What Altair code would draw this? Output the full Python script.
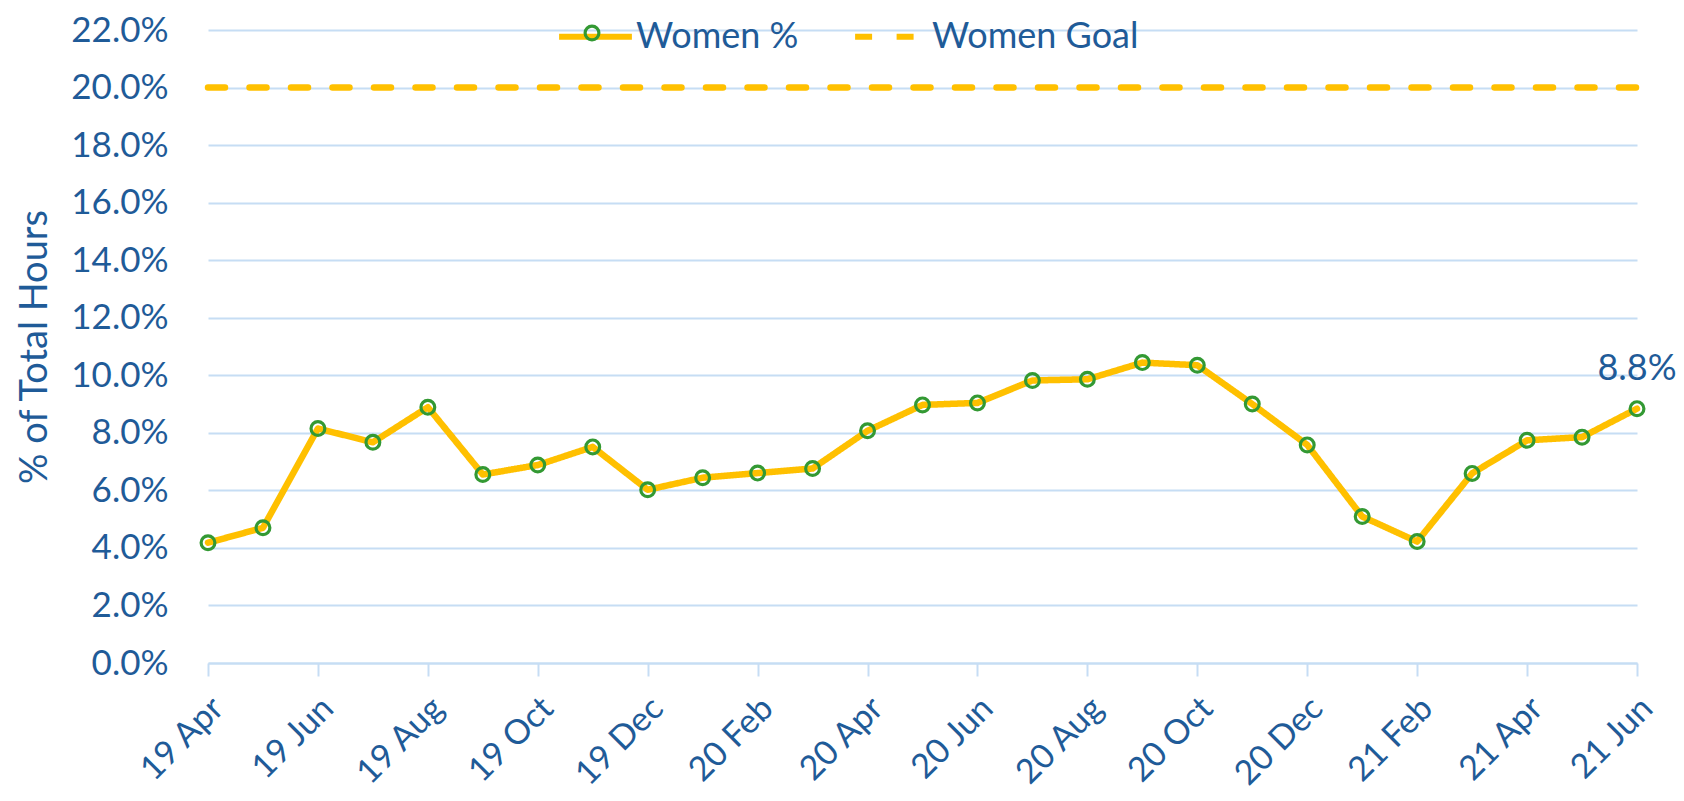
import altair as alt
import pandas as pd

months = ["19 Apr","19 May","19 Jun","19 Jul","19 Aug","19 Sep","19 Oct","19 Nov","19 Dec",
          "20 Jan","20 Feb","20 Mar","20 Apr","20 May","20 Jun","20 Jul","20 Aug","20 Sep",
          "20 Oct","20 Nov","20 Dec","21 Jan","21 Feb","21 Mar","21 Apr","21 May","21 Jun"]
women_pct = [4.18, 4.70, 8.15, 7.67, 8.89, 6.55, 6.88, 7.51, 6.02,
             6.44, 6.60, 6.76, 8.07, 8.97, 9.04, 9.82, 9.86, 10.44,
             10.35, 9.00, 7.58, 5.09, 4.22, 6.59, 7.74, 7.85, 8.84]
goal_pct = 20.0
series_names = ["Women %", "Women Goal"]
tick_months = months[::2]
y_ticks = [i / 100 for i in range(0, 23, 2)]

BLUE = "#1F5B98"
GOLD = "#FFC000"
GREEN = "#339933"
GRID = "#C6DDF4"
FONT = "Lato"

rows = []
for m, v in zip(months, women_pct):
    rows.append({"month": m, "value": v / 100, "series": series_names[0]})
for m in months:
    rows.append({"month": m, "value": goal_pct / 100, "series": series_names[1]})
df = pd.DataFrame(rows)

x = alt.X("month:O", sort=months, title=None,
          scale=alt.Scale(type="point", domain=months, padding=0),
          axis=alt.Axis(values=tick_months, labelAngle=-45, labelAlign="right",
                        labelBaseline="middle", labelFontSize=34, labelColor=BLUE,
                        labelFont=FONT, labelPadding=27, labelOffset=10, tickSize=13,
                        tickColor=GRID, tickWidth=2, domainColor=GRID, domainWidth=2,
                        grid=False))
y = alt.Y("value:Q", title="% of Total Hours",
          scale=alt.Scale(domain=[0, 0.22], nice=False),
          axis=alt.Axis(values=y_ticks, format=".1%", labelFontSize=35, labelColor=BLUE,
                        labelFont=FONT, labelPadding=40, ticks=False, tickSize=0,
                        domain=False, gridColor=GRID, gridWidth=2,
                        titleFontSize=38, titleColor=BLUE, titleFont=FONT,
                        titleFontWeight="normal", titlePadding=16))

leg_common = dict(title=None, orient="none", direction="horizontal",
                  legendX=348, legendY=-33, symbolType="stroke",
                  symbolSize=5300, symbolStrokeWidth=6,
                  labelFontSize=36, labelColor=BLUE, labelFont=FONT,
                  labelOffset=1, columnPadding=44, labelLimit=400)

lines = alt.Chart(df).mark_line(strokeWidth=6.5, strokeCap="round", strokeJoin="round").encode(
    x=x, y=y,
    color=alt.Color("series:N", scale=alt.Scale(domain=series_names, range=[GOLD, GOLD]),
                    legend=alt.Legend(**leg_common)),
    strokeDash=alt.StrokeDash("series:N", scale=alt.Scale(domain=series_names,
                                                          range=[[1, 0], [17, 24.5]]),
                              legend=alt.Legend(**leg_common)),
)

women_only = alt.datum.series == series_names[0]

points = alt.Chart(df).transform_filter(women_only).mark_point(
    filled=False, stroke=GREEN, strokeWidth=3.2, size=190, opacity=1
).encode(
    x=x, y=y,
    shape=alt.Shape("series:N", scale=alt.Scale(domain=[series_names[0]], range=["circle"]),
                    legend=alt.Legend(title=None, orient="none", legendX=366, legendY=-15,
                                      symbolStrokeColor=GREEN, symbolStrokeWidth=3.2,
                                      symbolSize=190, symbolFillColor="transparent",
                                      labelFontSize=36, labelOpacity=0, labelFont=FONT,
                                      labelExpr="''")),
)

label = alt.Chart(df).transform_filter(
    (alt.datum.series == series_names[0]) & (alt.datum.month == months[-1])
).mark_text(dy=-40, fontSize=36, color=BLUE, font=FONT).encode(
    x=x, y=y, text=alt.Text("value:Q", format=".1%")
)

chart = alt.layer(lines, points, label).properties(
    width=1429, height=633,
    autosize=alt.AutoSizeParams(type="none"),
    padding={"left": 200, "top": 22, "right": 39, "bottom": 130},
).configure_view(stroke=None)

chart.save("out.html", embed_options={"renderer": "svg", "actions": False})
